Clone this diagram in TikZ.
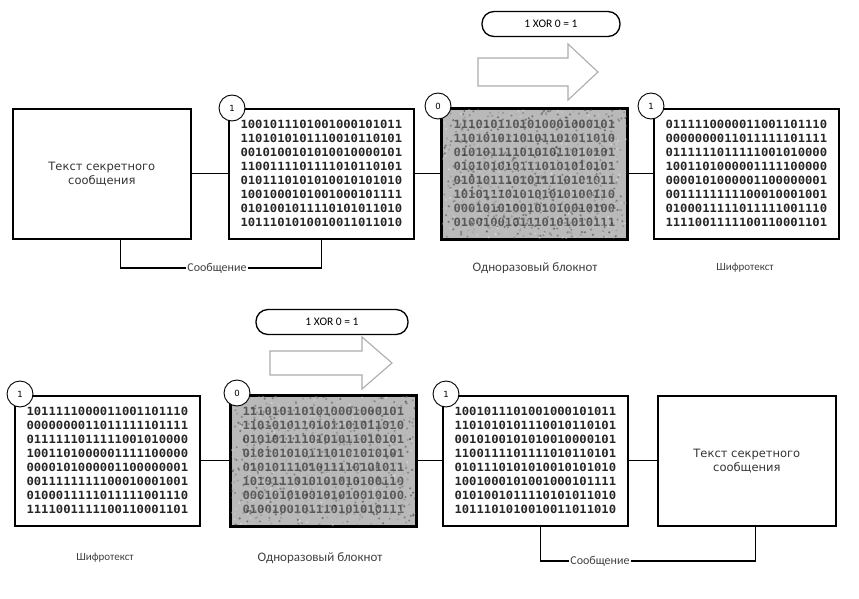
\documentclass[tikz,border=0pt]{standalone}
\usepackage{fontspec}
\setmainfont{DejaVu Sans}
\newfontfamily\binfont[FakeStretch=1.08]{DejaVu Sans Mono Bold}
\newfontfamily\lblfont{Carlito}
\begin{document}
\begin{tikzpicture}[x=1pt,y=-1pt,
  box/.style={draw, line width=1.7pt, minimum width=185pt, minimum height=130pt, inner sep=0pt, anchor=north west},
  txtbox/.style={box, minimum width=178pt, align=center, font=\fontsize{11.5}{14}\selectfont, text=black!80},
  binbox/.style={box, align=center, font=\binfont\fontsize{11.3}{14}\selectfont, text=black!85},
  padbox/.style={binbox, fill=gray!55, text=black!65},
  num/.style={circle, draw, line width=0.9pt, fill=white, minimum size=26pt, inner sep=0pt, font=\fontsize{8.5}{8.5}\selectfont},
  link/.style={line width=1.1pt},
  lbl/.style={font=\lblfont\fontsize{12}{14}\selectfont, text=black!75, inner sep=1pt},
  pill/.style={draw, rounded corners=12pt, minimum width=138pt, minimum height=25pt, line width=1.3pt, font=\lblfont\fontsize{11.5}{13}\selectfont},
  bigarrow/.style={draw=gray!65, line width=1.1pt, fill=white},
  speck/.style={opacity=0.4}
]
\useasboundingbox (0,0) rectangle (859,599);

% ---------- top row ----------
\node[pill] (p1) at (551,24) {1 XOR 0 = 1};
\draw[bigarrow] (478,58) -- (568,58) -- (568,44) -- (598,72) -- (568,100) -- (568,86) -- (478,86) -- cycle;

\node[txtbox] (t1) at (12,108) {Текст секретного\\сообщения};
\node[binbox] (t2) at (228,108) {1001011101001000101011\\1101010101110010110101\\0010100101010010000101\\1100111101111010110101\\0101110101010010101010\\1001000101001000101111\\0101001011110101011010\\1011101010010011011010};
\node[padbox] (t3) at (441,108) {1110101101010001000101\\1101010110101101011010\\0101011110101011010101\\0101010101110101010101\\0101011101011110101011\\1010111010101010100110\\0001010100101010010100\\0100100101110101010111};
\node[binbox] (t4) at (653,108) {0111110000011001101110\\0000000011011111101111\\0111111011111001010000\\1001101000001111100000\\0000101000001100000001\\0011111111100010001001\\0100011111011111001110\\1111001111100110001101};

\pgfmathsetseed{17}
\begin{scope}
\clip (t3.north west) rectangle (t3.south east);
\foreach \i in {1,...,800}{
  \pgfmathsetmacro\px{441+185*rnd}\pgfmathsetmacro\py{108+130*rnd}\pgfmathtruncatemacro\g{100*rnd}
  \fill[speck, black!\g] (\px,\py) circle (1.2);
}
\end{scope}
\draw[line width=1.7pt] (t3.north west) rectangle (t3.south east);

\draw[link] (t1) -- (t2);
\draw[link] (t2) -- (t3);
\draw[link] (t3) -- (t4);

\node[num] (c2) at (232,108) {1};
\node[num] (c3) at (438,106) {0};
\node[num] (c4) at (651,106) {1};

\node[lbl] (m1) at (217,268) {Сообщение};
\draw[link] ([xshift=19pt]t1.south) |- (m1.west);
\draw[link] (t2.south) |- (m1.east);
\node[lbl, font=\lblfont\fontsize{13}{15}\selectfont] (l3) at (535,268) {Одноразовый блокнот};
\node[lbl, font=\lblfont\fontsize{11}{13}\selectfont] (l4) at (745,268) {Шифротекст};

% ---------- bottom row ----------
\node[pill, minimum width=152pt] (p2) at (332,322) {1 XOR 0 = 1};
\draw[bigarrow] (270,351) -- (362,351) -- (362,337) -- (392,363) -- (362,389) -- (362,375) -- (270,375) -- cycle;

\node[binbox] (b1) at (14,395) {1011111000011001101110\\0000000011011111101111\\0111111011111001010000\\1001101000001111100000\\0000101000001100000001\\0011111111100010001001\\0100011111011111001110\\1111001111100110001101};
\node[padbox] (b2) at (230,395) {1110101101010001000101\\1101010110101101011010\\0101011110101011010101\\0101010101110101010101\\0101011101011110101011\\1010111010101010100110\\0001010100101010010100\\0100100101110101010111};
\node[binbox] (b3) at (442,395) {1001011101001000101011\\1101010101110010110101\\0010100101010010000101\\1100111101111010110101\\0101110101010010101010\\1001000101001000101111\\0101001011110101011010\\1011101010010011011010};
\node[txtbox] (b4) at (657,395) {Текст секретного\\сообщения};

\begin{scope}
\clip (b2.north west) rectangle (b2.south east);
\foreach \i in {1,...,800}{
  \pgfmathsetmacro\px{230+185*rnd}\pgfmathsetmacro\py{395+130*rnd}\pgfmathtruncatemacro\g{100*rnd}
  \fill[speck, black!\g] (\px,\py) circle (1.2);
}
\end{scope}
\draw[line width=1.7pt] (b2.north west) rectangle (b2.south east);

\draw[link] (b1) -- (b2);
\draw[link] (b2) -- (b3);
\draw[link] (b3) -- (b4);

\node[num] (d1) at (20,394) {1};
\node[num] (d2) at (237,393) {0};
\node[num] (d3) at (446,394) {1};

\node[lbl, font=\lblfont\fontsize{11}{13}\selectfont] (l1) at (105,558) {Шифротекст};
\node[lbl, font=\lblfont\fontsize{13}{15}\selectfont] (l2) at (320,558) {Одноразовый блокнот};
\node[lbl] (m2) at (600,561) {Сообщение};
\draw[link] ([xshift=5pt]b3.south) |- (m2.west);
\draw[link] ([xshift=9pt]b4.south) |- (m2.east);
\end{tikzpicture}
\end{document}
